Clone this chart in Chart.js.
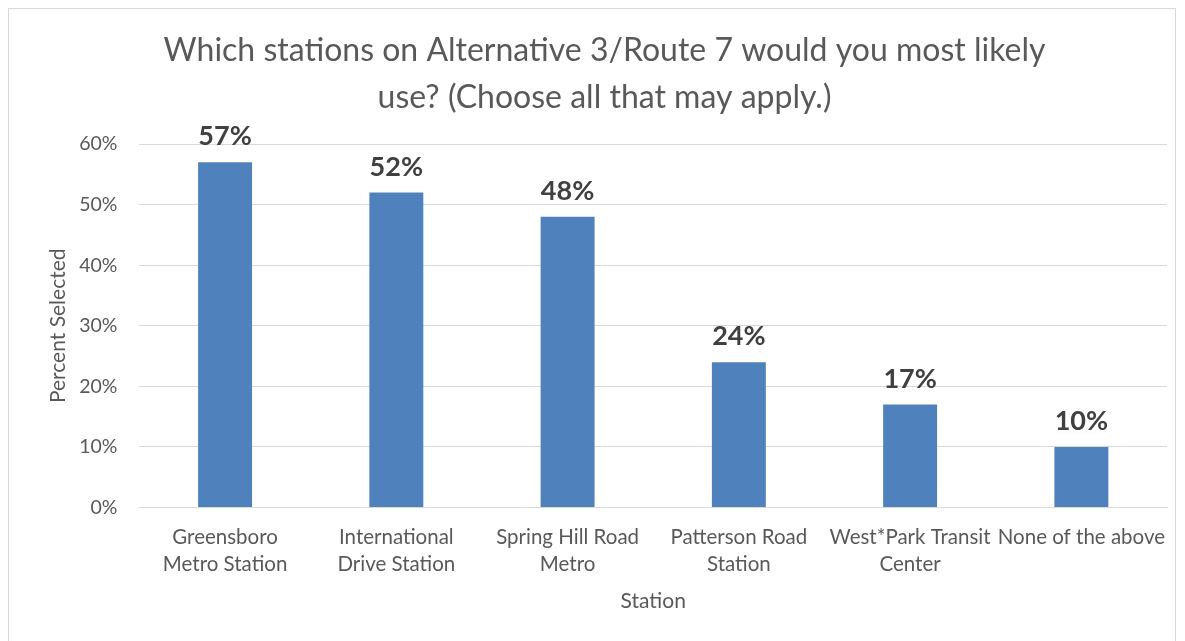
<!DOCTYPE html>
<html lang="en">
<head>
    <meta charset="UTF-8">
    <title>Stations on Alternative 3/Route 7</title>
    <script src="https://cdn.jsdelivr.net/npm/chart.js"></script>
    <style>
        body { margin: 0; background: #fff; }
        .marco {
            position: absolute; left: 8px; top: 8px;
            width: 1168px; height: 640px;
            border: 1px solid #d9d9d9; border-bottom: none;
            box-sizing: border-box;
        }
        canvas { display: block; }
    </style>
</head>
<body>
<div class="marco">
    <canvas id="grafica" width="1166" height="639"></canvas>
</div>
<script>
    // datos
    const estaciones = [
        ['Greensboro', 'Metro Station'],
        ['International', 'Drive Station'],
        ['Spring Hill Road', 'Metro'],
        ['Patterson Road', 'Station'],
        ['West*Park Transit', 'Center'],
        'None of the above'
    ];
    const porcentajes = [57, 52, 48, 24, 17, 10];
    const ticksY = [0, 10, 20, 30, 40, 50, 60];

    const fuente = 'Lato, "Open Sans", sans-serif';

    // etiquetas encima de cada barra
    const etiquetas = {
        id: 'etiquetas',
        afterDatasetsDraw(chart) {
            const ctx = chart.ctx;
            const meta = chart.getDatasetMeta(0);
            ctx.save();
            ctx.font = 'bold 27px ' + fuente;
            ctx.fillStyle = '#404040';
            ctx.textAlign = 'center';
            ctx.textBaseline = 'bottom';
            meta.data.forEach((barra, i) => {
                ctx.fillText(porcentajes[i] + '%', barra.x, barra.y - 12);
            });
            ctx.restore();
        }
    };

    new Chart(document.getElementById('grafica'), {
        type: 'bar',
        data: {
            labels: estaciones,
            datasets: [{
                data: porcentajes,
                backgroundColor: '#4f81bd',
                categoryPercentage: 1,
                barPercentage: 0.315
            }]
        },
        plugins: [etiquetas],
        options: {
            responsive: false,
            animation: false,
            layout: { padding: { left: 33, right: 8, top: 0, bottom: 30 } },
            plugins: {
                legend: { display: false },
                tooltip: { enabled: false },
                title: {
                    display: true,
                    text: ['Which stations on Alternative 3/Route 7 would you most likely', 'use? (Choose all that may apply.)'],
                    color: '#595959',
                    font: { family: fuente, size: 32, weight: 'normal', lineHeight: 1.47 },
                    padding: { top: 18, bottom: 23 }
                }
            },
            scales: {
                x: {
                    grid: { display: false },
                    border: { color: '#d9d9d9' },
                    ticks: {
                        color: '#595959',
                        font: { family: fuente, size: 20.5, lineHeight: 1.3 },
                        autoSkip: false,
                        maxRotation: 0,
                        padding: 9
                    },
                    title: {
                        display: true,
                        text: 'Station',
                        color: '#595959',
                        font: { family: fuente, size: 21 },
                        padding: { top: 2 }
                    }
                },
                y: {
                    min: 0,
                    max: 60,
                    afterBuildTicks(axis) {
                        axis.ticks = ticksY.map(v => ({ value: v }));
                    },
                    grid: { color: '#d9d9d9', drawTicks: false },
                    border: { display: false },
                    ticks: {
                        color: '#595959',
                        font: { family: fuente, size: 19.5 },
                        padding: 22,
                        callback: v => v + '%'
                    },
                    title: {
                        display: true,
                        text: 'Percent Selected',
                        color: '#595959',
                        font: { family: fuente, size: 21 },
                        padding: { top: 4, bottom: -14 }
                    }
                }
            }
        }
    });
</script>
</body>
</html>
